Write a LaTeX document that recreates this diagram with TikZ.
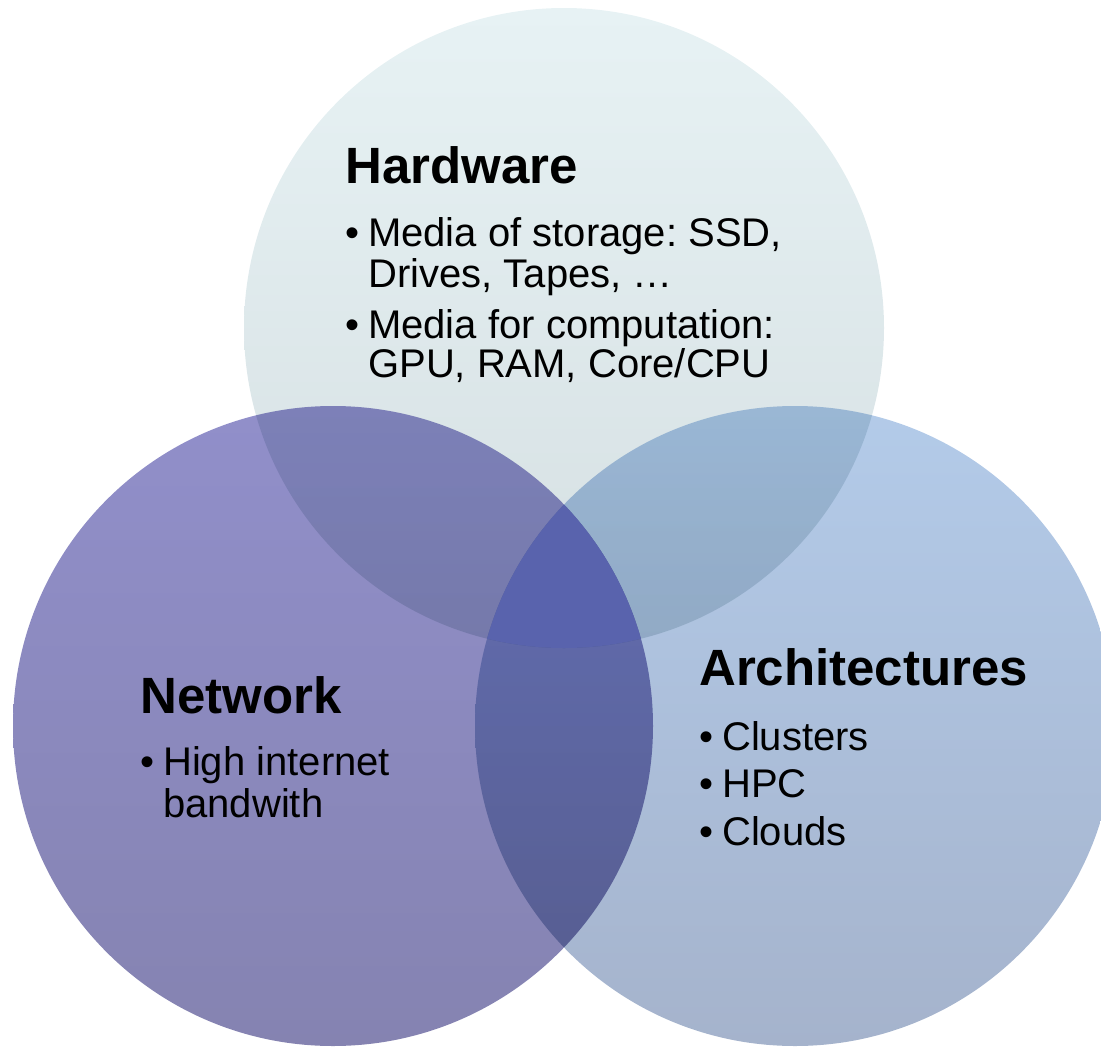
\documentclass[tikz,border=0pt]{standalone}
\usepackage{fontspec}
\setmainfont{Liberation Sans}
\usetikzlibrary{positioning}
\definecolor{hwtop}{HTML}{E7F2F4}
\definecolor{hwbot}{HTML}{D5DFE2}
\definecolor{nwtop}{HTML}{918FCA}
\definecolor{nwbot}{HTML}{8583B1}
\definecolor{artop}{HTML}{B3CBE9}
\definecolor{arbot}{HTML}{A5B3CC}
\definecolor{triple}{HTML}{5963AD}
\tikzset{
  venn/.style={circle, minimum size=640pt, inner sep=0pt, blend mode=multiply},
  title/.style={anchor=base west, inner sep=0pt, font=\fontsize{51}{56}\selectfont\bfseries},
  line/.style={anchor=base west, inner sep=0pt, font=\fontsize{40}{42}\selectfont},
}
\newcommand{\blt}{\llap{\makebox[23pt][l]{\textbullet}}}
\frenchspacing
\begin{document}
\begin{tikzpicture}[x=1pt,y=-1pt]
\useasboundingbox (0,0) rectangle (1101,1047);
\node[venn, top color=hwtop, bottom color=hwbot] (hw) at (564,328) {};
\node[venn, top color=nwtop, bottom color=nwbot] (nw) at (333,726) {};
\node[venn, top color=artop, bottom color=arbot] (ar) at (795,726) {};
\begin{scope}
  \clip (564,328) circle (320pt);
  \clip (333,726) circle (320pt);
  \fill[triple] (795,726) circle (320pt);
\end{scope}

\node[title] (hwt) at (345,183) {Hardware};
\node[line] (hw1) at (368,246) {\blt Media of storage: SSD,};
\node[line] (hw2) at (368,287) {Drives, Tapes, …};
\node[line] (hw3) at (368,338) {\blt Media for computation:};
\node[line] (hw4) at (368,377) {GPU, RAM, Core/CPU};

\node[title] (nwt) at (140,713) {Network};
\node[line] (nw1) at (163,775) {\blt High internet};
\node[line] (nw2) at (163,817) {bandwith};

\node[title] (art) at (699,685) {Architectures};
\node[line] (ar1) at (722,750) {\blt Clusters};
\node[line] (ar2) at (722,797) {\blt HPC};
\node[line] (ar3) at (722,845) {\blt Clouds};
\end{tikzpicture}
\end{document}
